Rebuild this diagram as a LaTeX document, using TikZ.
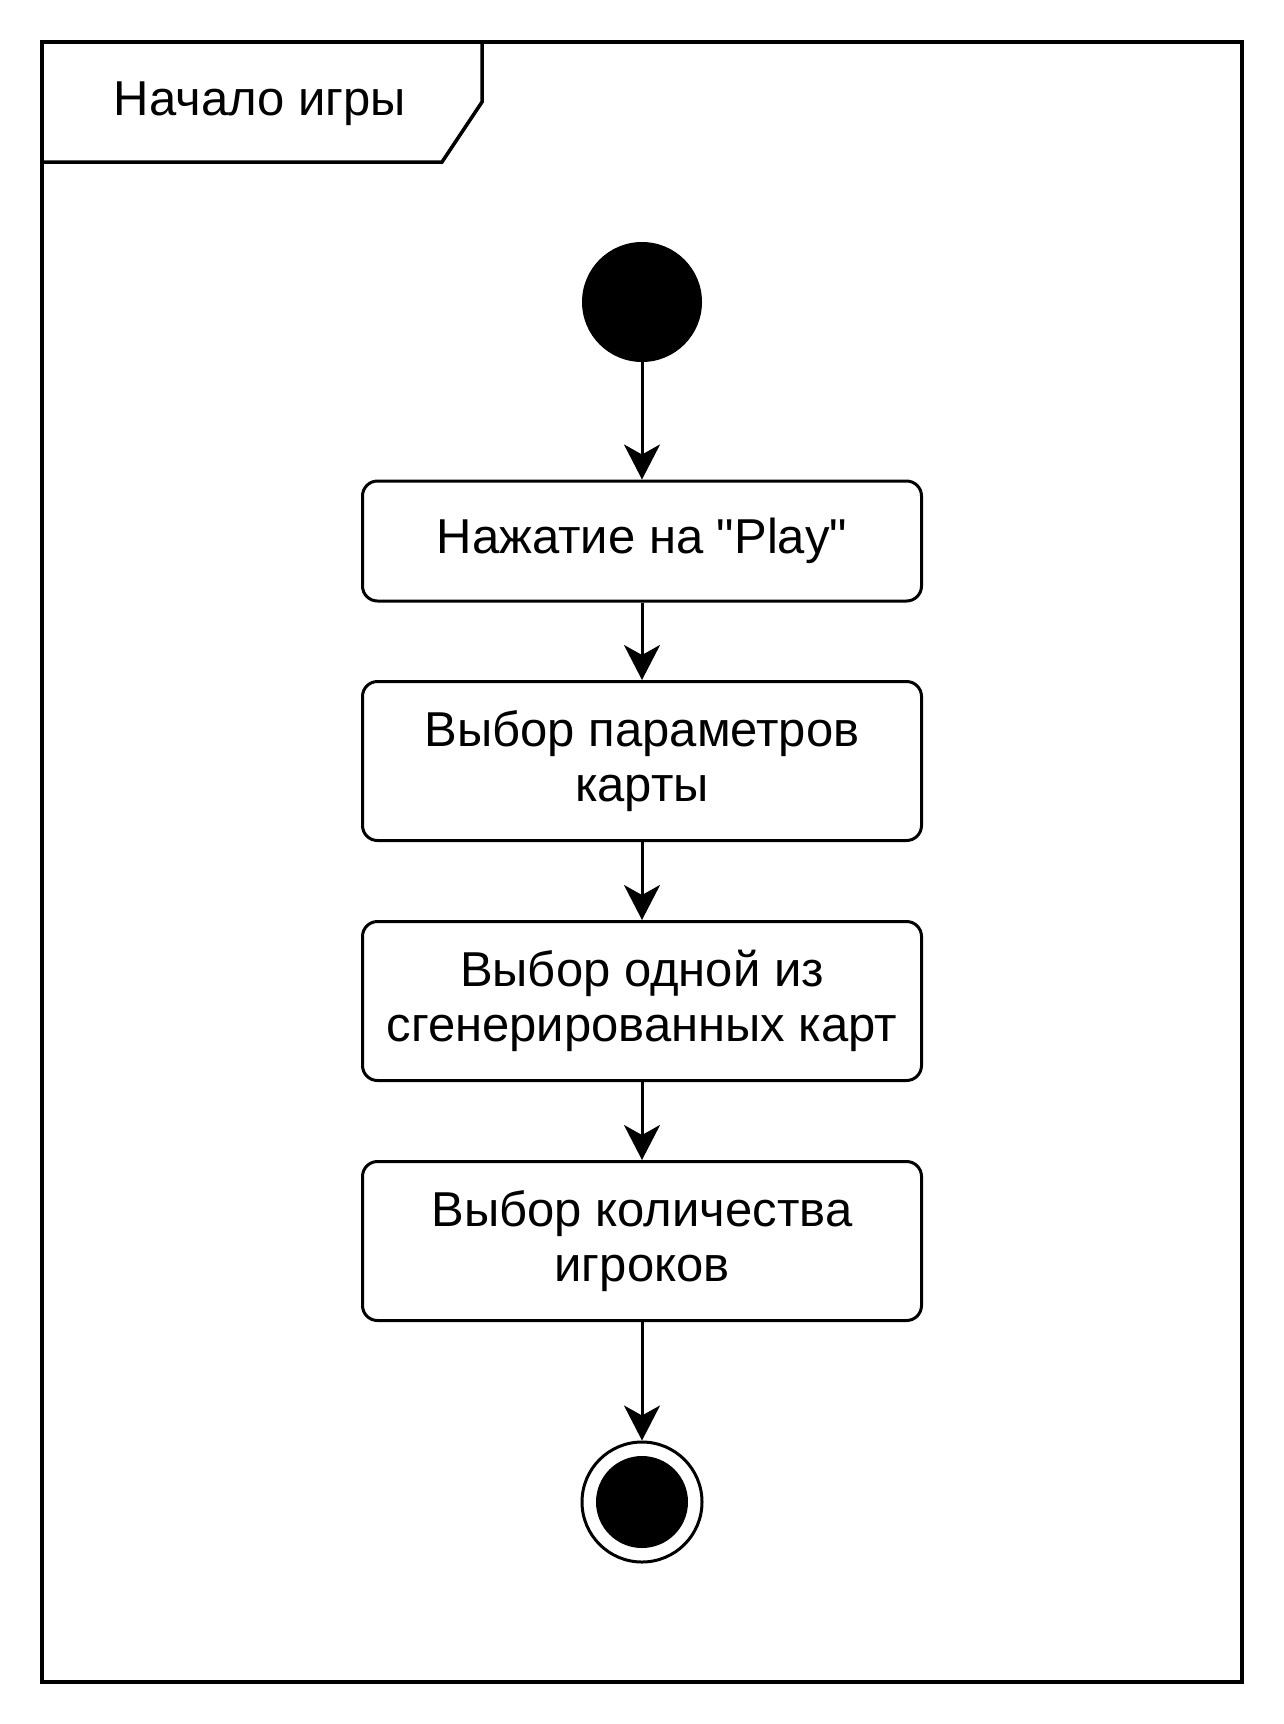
\documentclass[tikz,border=0pt]{standalone}
\usepackage{fontspec}
\setmainfont{Liberation Sans}[Ligatures=TeXOff]
\usetikzlibrary{positioning,arrows.meta}

\begin{document}
\begin{tikzpicture}[
  x=1pt,y=-1pt,
  >={Stealth[length=35pt,width=36pt,inset=10pt]},
  act/.style={rounded corners=15pt,draw,line width=3pt,align=center,
              minimum width=559pt,inner sep=0pt,
              font=\fontsize{49}{55}\selectfont},
  flow/.style={->,line width=3pt}
]
  \useasboundingbox (0,0) rectangle (1284,1724);

  % marco del diagrama
  \draw[line width=3.5pt] (42,42) rectangle (1242,1682);
  \draw[line width=3.5pt] (42,162) -- (442,162) -- (482,102) -- (482,42);
  \node[font=\fontsize{49}{55}\selectfont] (title) at (260,104) {Начало игры};

  % estados inicial y final
  \node[circle,fill,inner sep=0pt,minimum size=120pt] (ini) at (642,302) {};
  \node[circle,draw,line width=3pt,inner sep=0pt,minimum size=120pt] (fin) at (642,1502) {};
  \node[circle,fill,inner sep=0pt,minimum size=92pt] (findot) at (fin.center) {};

  % acciones
  \node[act,minimum height=120pt] (play) at (642,541) {Нажатие на "Play"};
  \node[act,minimum height=159pt] (param) at (642,761) {Выбор параметров\\карты};
  \node[act,minimum height=159pt] (mapa) at (642,1001) {Выбор одной из\\сгенерированных карт};
  \node[act,minimum height=159pt] (jug) at (642,1241) {Выбор количества\\игроков};

  % flujo
  \draw[flow] (ini) -- (play);
  \draw[flow] (play) -- (param);
  \draw[flow] (param) -- (mapa);
  \draw[flow] (mapa) -- (jug);
  \draw[flow] (jug) -- (fin);
\end{tikzpicture}
\end{document}
